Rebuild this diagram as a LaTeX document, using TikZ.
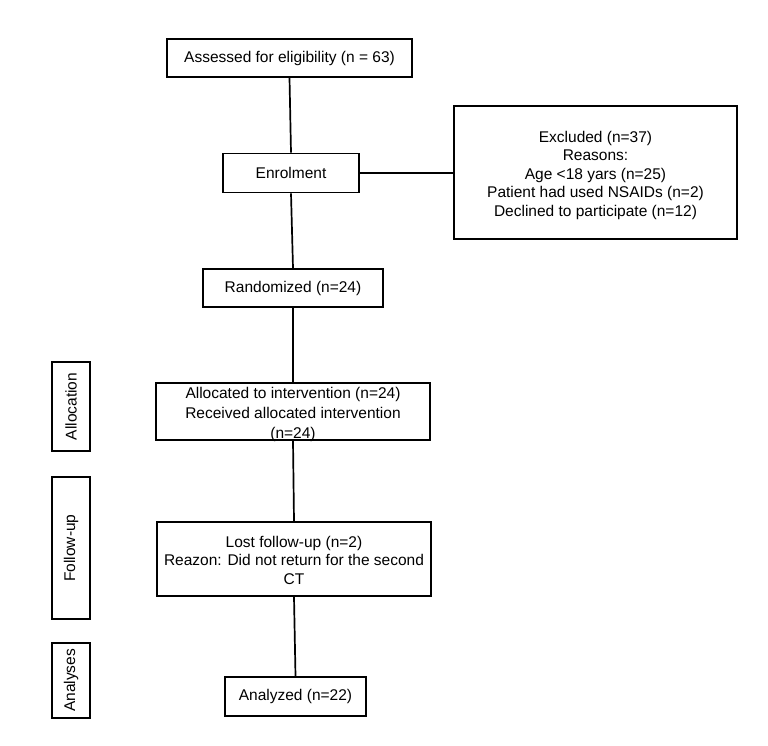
\documentclass[tikz,border=0pt]{standalone}
\usepackage{fontspec}
\setmainfont{Liberation Sans}
\begin{document}
\begin{tikzpicture}[x=1pt,y=-1pt,
  box/.style={draw=black,line width=1.7pt,inner sep=0pt,align=center,
    font=\fontsize{15.5}{18.5}\selectfont},
  txt/.style={inner sep=0pt,align=center,font=\fontsize{15.5}{18.5}\selectfont},
  side/.style={box,rotate=90},
  link/.style={draw=black,line width=1.7pt}]
\useasboundingbox[fill=white] (0,0) rectangle (768,746);
\node[box,minimum width=245,minimum height=38] (assess) at (289.5,58) {Assessed for eligibility (n = 63)};
\node[box,minimum width=136,minimum height=39] (enrol) at (291,173) {Enrolment};
\node[box,minimum width=283,minimum height=133] (excl) at (595.5,172.5) {};
\node[txt] (exclt) at (595.5,175) {Excluded (n=37)\\Reasons:\\Age <18 yars (n=25)\\Patient had used NSAIDs (n=2)\\Declined to participate (n=12)};
\node[box,minimum width=180,minimum height=38] (rand) at (293,288) {Randomized (n=24)};
\node[box,minimum width=274,minimum height=57] (alloc) at (293,411.5) {};
\node[txt,font=\fontsize{15.5}{20}\selectfont] (allot) at (293,414) {Allocated to intervention (n=24)\\Received allocated intervention\\(n=24)};
\node[box,minimum width=274,minimum height=74] (lost) at (294,559) {};
\node[txt] (lostt) at (294,560) {Lost follow-up (n=2)\\Reazon: Did not return for the second\\CT};
\node[box,minimum width=141,minimum height=39] (anal) at (295.5,696.5) {Analyzed (n=22)};
\node[side,minimum width=89,minimum height=38] (sAlloc) at (71,406.5) {Allocation};
\node[side,minimum width=142,minimum height=38] (sFollow) at (71,548) {Follow-up};
\node[side,minimum width=75,minimum height=38] (sAnal) at (71,680.5) {Analyses};
\draw[link] (assess.south) -- (enrol.north);
\draw[link] (enrol.south) -- (rand.north);
\draw[link] (rand.south) -- (alloc.north);
\draw[link] (alloc.south) -- (lost.north);
\draw[link] (lost.south) -- (anal.north);
\draw[link] (enrol.east) -- (enrol.east -| excl.west);
\end{tikzpicture}
\end{document}
